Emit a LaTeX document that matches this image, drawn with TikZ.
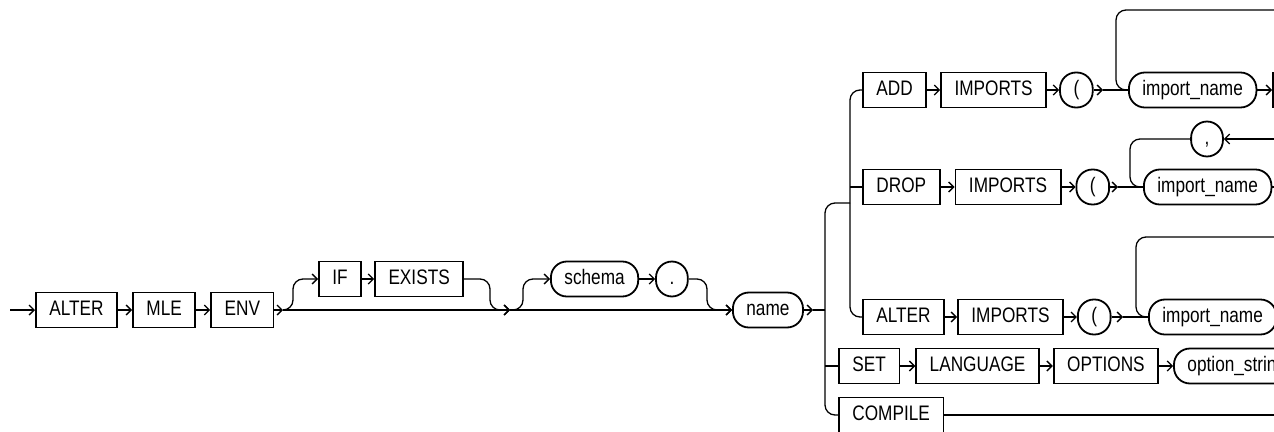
\documentclass[tikz,border=0pt]{standalone}
\usepackage{fontspec}
\setmainfont{Liberation Sans}[FakeStretch=0.82]
\usetikzlibrary{arrows.meta,positioning,calc}

\begin{document}
\begin{tikzpicture}[x=1pt,y=-1pt,
        >={Straight Barb[length=5pt,width=10pt]},
        rail/.style={line width=1.3pt},
        turn/.style={rail,rounded corners=10pt},
        kwbox/.style={draw,line width=1.8pt,minimum height=35pt,inner xsep=13.5pt,inner ysep=0pt,
            text height=15pt,text depth=4pt,font=\fontsize{21}{25}\selectfont},
        varbox/.style={kwbox,rounded corners=16pt}]
    \useasboundingbox (0,0) rectangle (1274,431);
    \clip (0,0) rectangle (1274,431);

    % main line
    \node[kwbox,anchor=west] (alter) at (35,310) {ALTER};
    \node[kwbox,right=14pt of alter] (mle) {MLE};
    \node[kwbox,right=14pt of mle] (env) {ENV};
    \node[kwbox,anchor=west] (ifkw) at (318,279) {IF};
    \node[kwbox,right=12pt of ifkw] (exists) {EXISTS};
    \node[varbox,anchor=west] (schema) at (550,279) {schema};
    \node[varbox,right=16pt of schema] (dot) {.};
    \node[varbox,anchor=west] (name) at (732,310) {name};

    \coordinate (start) at (10,310);
    \coordinate (split) at (283,310);
    \coordinate (merge) at (510,310);
    \coordinate (after) at (813,310);
    \coordinate (outer) at (825,310);
    \coordinate (inner) at (850,203);

    \draw[rail,->] (start) -- (alter);
    \draw[rail,->] (alter) -- (mle);
    \draw[rail,->] (mle) -- (env);
    \draw[rail,->] (env) -- (split);
    \draw[rail,->] (split) -- (merge);
    \draw[turn,->] (split) -- ++(10,0) |- (ifkw.west);
    \draw[rail,->] (ifkw) -- (exists);
    \draw[turn,->] (exists.east) -| ($(merge)+(-20,0)$) -- (merge);
    \draw[turn,->] (merge) -- ++(13,0) |- (schema.west);
    \draw[rail,->] (schema) -- (dot);
    \draw[turn,->] (dot.east) -| ($(name.west)+(-25,0)$) -- (name.west);
    \draw[rail,->] (merge) -- (name);
    \draw[rail,->] (name) -- (after);
    \draw[rail] (after) -- (outer);

    % ADD IMPORTS
    \node[kwbox,anchor=west] (add) at (862,90) {ADD};
    \node[kwbox,right=13pt of add] (imp1) {IMPORTS};
    \node[varbox,right=12pt of imp1] (lp1) {(};
    \node[varbox,anchor=west] (iname1) at (1128,90) {import\_name};
    \node[kwbox,anchor=west] (next1) at (1272,90) {};
    \coordinate (a1) at (1103,90);
    \coordinate (back1) at (1280,10);
    \draw[rail,->] (add) -- (imp1);
    \draw[rail,->] (imp1) -- (lp1);
    \draw[rail,->] (lp1) -- (a1);
    \draw[rail] (a1) -- (iname1);
    \draw[rail,->] (iname1) -- (next1);
    \draw[turn] (back1) -| ($(iname1.west)+(-12,0)$) -- (iname1.west);

    % DROP IMPORTS
    \node[kwbox,anchor=west] (drop) at (862,187) {DROP};
    \node[kwbox,right=14pt of drop] (imp2) {IMPORTS};
    \node[varbox,right=14pt of imp2] (lp2) {(};
    \node[varbox,anchor=west] (iname2) at (1143,187) {import\_name};
    \node[varbox] (comma) at (1207,139) {,};
    \coordinate (a2) at (1118,187);
    \coordinate (back2) at (1280,139);
    \coordinate (out2) at (1280,187);
    \draw[rail,->] (drop) -- (imp2);
    \draw[rail,->] (imp2) -- (lp2);
    \draw[rail,->] (lp2) -- (a2);
    \draw[rail] (a2) -- (iname2);
    \draw[rail] (iname2) -- (out2);
    \draw[rail,->] (back2) -- (comma);
    \draw[turn] (comma.west) -| ($(iname2.west)+(-13,0)$) -- (iname2.west);

    % ALTER IMPORTS
    \node[kwbox,anchor=west] (alt2) at (862,317) {ALTER};
    \node[kwbox,right=12pt of alt2] (imp3) {IMPORTS};
    \node[varbox,right=13pt of imp3] (lp3) {(};
    \node[varbox,anchor=west] (iname3) at (1148,317) {import\_name};
    \coordinate (a3) at (1123,317);
    \coordinate (back3) at (1280,237);
    \draw[rail,->] (alt2) -- (imp3);
    \draw[rail,->] (imp3) -- (lp3);
    \draw[rail,->] (lp3) -- (a3);
    \draw[rail] (a3) -- (iname3);
    \draw[turn] (back3) -| ($(iname3.west)+(-12,0)$) -- (iname3.west);

    % SET LANGUAGE OPTIONS
    \node[kwbox,anchor=west] (set) at (838,366) {SET};
    \node[kwbox,right=15pt of set] (lang) {LANGUAGE};
    \node[kwbox,right=13pt of lang] (opts) {OPTIONS};
    \node[varbox,right=14pt of opts] (optstr) {option\_string};
    \draw[rail,->] (set) -- (lang);
    \draw[rail,->] (lang) -- (opts);
    \draw[rail,->] (opts) -- (optstr);

    % COMPILE
    \node[kwbox,anchor=west] (compile) at (838,415) {COMPILE};
    \coordinate (out5) at (1280,415);
    \draw[rail] (compile) -- (out5);

    % choices
    \draw[turn] (outer) |- (inner);
    \draw[turn] (outer) |- (compile.west);
    \draw[rail] (outer |- set.west) -- (set.west);
    \draw[turn] (inner) |- (add.west);
    \draw[turn] (inner) |- (alt2.west);
    \draw[rail] (inner |- drop.west) -- (drop.west);
\end{tikzpicture}
\end{document}
